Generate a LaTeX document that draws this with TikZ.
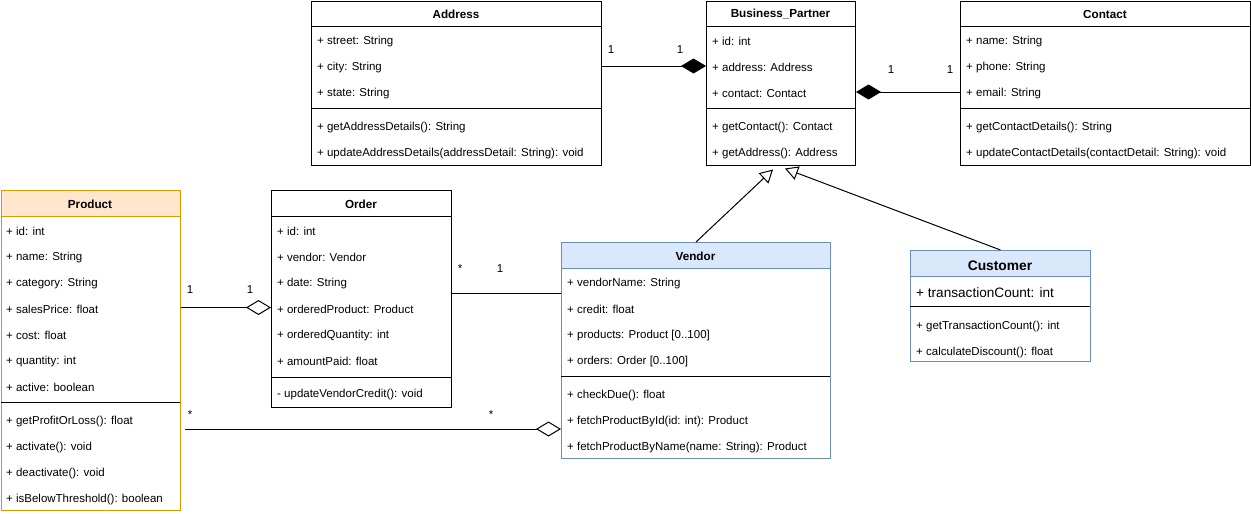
\documentclass[tikz,border=0pt]{standalone}
\usepackage{fontspec}
\setmainfont{Liberation Sans}
\usetikzlibrary{arrows.meta}
\definecolor{prodfill}{HTML}{FFE6CC}
\definecolor{prodline}{HTML}{D79B00}
\definecolor{bluefill}{HTML}{DAE8FC}
\definecolor{blueline}{HTML}{6C8EBF}
\tikzset{
  box/.style={draw=black, line width=1pt, inner sep=0pt, anchor=north west},
  hdr/.style={font=\bfseries\fontsize{11.7}{14}\selectfont, inner sep=0pt},
  rowtext/.style={font=\fontsize{11.5}{14}\selectfont, anchor=west, inner sep=0pt},
  bigrow/.style={font=\fontsize{13.6}{16}\selectfont, anchor=west, inner sep=0pt},
  conn/.style={line width=1pt},
  sepline/.style={line width=1pt},
  mult/.style={font=\fontsize{11.5}{14}\selectfont, inner sep=0pt, anchor=base},
  fdia/.style={-{Diamond[length=25pt, width=15pt]}},
  odia/.style={-{Diamond[open, length=25pt, width=15pt, fill=white]}},
  gen/.style={-{Triangle[open, length=13pt, width=14pt, fill=white]}},
}
\begin{document}
\begin{tikzpicture}[x=1pt, y=-1pt]
\useasboundingbox (0,0) rectangle (1251,514);
\fill[white] (0,0) rectangle (1251,514);

% ---------- Address ----------
\node[box, minimum width=290pt, minimum height=164pt] (addr) at (311,0.5) {};
\draw[sepline] (311,26) -- (601,26);
\node[hdr] (addr-t) at (456,14) {Address};
\foreach \t [count=\i] in {{+ street: String},{+ city: String},{+ state: String}}
  \node[rowtext] (addr-a\i) at (317,15.5+26*\i) {\t};
\draw[sepline] (311,108) -- (601,108);
\foreach \t [count=\i] in {{+ getAddressDetails(): String},{+ updateAddressDetails(addressDetail: String): void}}
  \node[rowtext] (addr-m\i) at (317,101.5+26*\i) {\t};

% ---------- Business_Partner ----------
\node[box, minimum width=149pt, minimum height=164pt] (bp) at (706,0.5) {};
\draw[sepline] (706,26) -- (855,26);
\node[hdr] (bp-t) at (780.5,14) {Business\_Partner};
\foreach \t [count=\i] in {{+ id: int},{+ address: Address},{+ contact: Contact}}
  \node[rowtext] (bp-a\i) at (712,15.5+26*\i) {\t};
\draw[sepline] (706,108) -- (855,108);
\foreach \t [count=\i] in {{+ getContact(): Contact},{+ getAddress(): Address}}
  \node[rowtext] (bp-m\i) at (712,101.5+26*\i) {\t};

% ---------- Contact ----------
\node[box, minimum width=290pt, minimum height=164pt] (cont) at (960,0.5) {};
\draw[sepline] (960,26) -- (1250,26);
\node[hdr] (cont-t) at (1105,14) {Contact};
\foreach \t [count=\i] in {{+ name: String},{+ phone: String},{+ email: String}}
  \node[rowtext] (cont-a\i) at (966,15.5+26*\i) {\t};
\draw[sepline] (960,108) -- (1250,108);
\foreach \t [count=\i] in {{+ getContactDetails(): String},{+ updateContactDetails(contactDetail: String): void}}
  \node[rowtext] (cont-m\i) at (966,101.5+26*\i) {\t};

% ---------- Product ----------
\fill[prodfill] (0.5,190) rectangle (180,216);
\draw[sepline, prodline] (0.5,216) -- (180,216);
\node[box, draw=prodline, minimum width=179.5pt, minimum height=320pt] (prod) at (0.5,190) {};
\node[hdr] (prod-t) at (90,204) {Product};
\foreach \t [count=\i] in {{+ id: int},{+ name: String},{+ category: String},{+ salesPrice: float},{+ cost: float},{+ quantity: int},{+ active: boolean}}
  \node[rowtext] (prod-a\i) at (6,205.5+26*\i) {\t};
\draw[sepline] (0.5,402) -- (180,402);
\foreach \t [count=\i] in {{+ getProfitOrLoss(): float},{+ activate(): void},{+ deactivate(): void},{+ isBelowThreshold(): boolean}}
  \node[rowtext] (prod-m\i) at (6,395.5+26*\i) {\t};

% ---------- Order ----------
\node[box, minimum width=180pt, minimum height=217pt] (ord) at (271,190) {};
\draw[sepline] (271,216) -- (451,216);
\node[hdr] (ord-t) at (361,204) {Order};
\foreach \t [count=\i] in {{+ id: int},{+ vendor: Vendor},{+ date: String},{+ orderedProduct: Product},{+ orderedQuantity: int},{+ amountPaid: float}}
  \node[rowtext] (ord-a\i) at (277,205.5+26*\i) {\t};
\draw[sepline] (271,377) -- (451,377);
\node[rowtext] (ord-m1) at (277,394.5) {- updateVendorCredit(): void};

% ---------- Vendor ----------
\fill[bluefill] (561,242) rectangle (830,268);
\draw[sepline, blueline] (561,268) -- (830,268);
\node[box, draw=blueline, minimum width=269pt, minimum height=216pt] (vend) at (561,242) {};
\node[hdr] (vend-t) at (695.5,256) {Vendor};
\foreach \t [count=\i] in {{+ vendorName: String},{+ credit: float},{+ products: Product [0..100]},{+ orders: Order [0..100]}}
  \node[rowtext] (vend-a\i) at (567,257.5+26*\i) {\t};
\draw[sepline] (561,376) -- (830,376);
\foreach \t [count=\i] in {{+ checkDue(): float},{+ fetchProductById(id: int): Product},{+ fetchProductByName(name: String): Product}}
  \node[rowtext] (vend-m\i) at (567,369.5+26*\i) {\t};

% ---------- Customer ----------
\fill[bluefill] (910,250) rectangle (1090,276);
\draw[sepline, blueline] (910,276) -- (1090,276);
\node[box, draw=blueline, minimum width=180pt, minimum height=111pt] (cust) at (910,250) {};
\node[hdr, font=\bfseries\fontsize{13.8}{16}\selectfont] (cust-t) at (1000,266) {Customer};
\node[bigrow] (cust-a1) at (916,292.5) {+ transactionCount: int};
\draw[sepline] (910,306) -- (1090,306);
\foreach \t [count=\i] in {{+ getTransactionCount(): int},{+ calculateDiscount(): float}}
  \node[rowtext] (cust-m\i) at (916,300.5+26*\i) {\t};

% ---------- Connectors ----------
\coordinate (ab) at (0,66);
\draw[conn, fdia] (addr.east |- ab) -- (bp.west |- ab);
\node[mult] (m1) at (611,53) {1};
\node[mult] (m2) at (680,53) {1};

\coordinate (bc) at (0,92);
\draw[conn, fdia] (cont.west |- bc) -- (bp.east |- bc);
\node[mult] (m3) at (891,73) {1};
\node[mult] (m4) at (950,73) {1};

\coordinate (po) at (0,307.5);
\draw[conn, odia] (prod.east |- po) -- (ord.west |- po);
\node[mult] (m5) at (190,293) {1};
\node[mult] (m6) at (250,293) {1};

\coordinate (ov) at (0,293.5);
\draw[conn] (ord.east |- ov) -- (vend.west |- ov);
\node[mult] (m7) at (460,272) {*};
\node[mult] (m8) at (500,272.5) {1};

\coordinate (pv) at (185,429);
\draw[conn, odia] (pv) -- (vend.west |- pv);
\node[mult] (m9) at (190,418) {*};
\node[mult] (m10) at (491,418) {*};

\coordinate (g1) at (773,169.5);
\coordinate (g2) at (785,168.5);
\draw[conn, gen] (vend.north) -- (g1);
\draw[conn, gen] (cust.north) -- (g2);
\end{tikzpicture}
\end{document}
